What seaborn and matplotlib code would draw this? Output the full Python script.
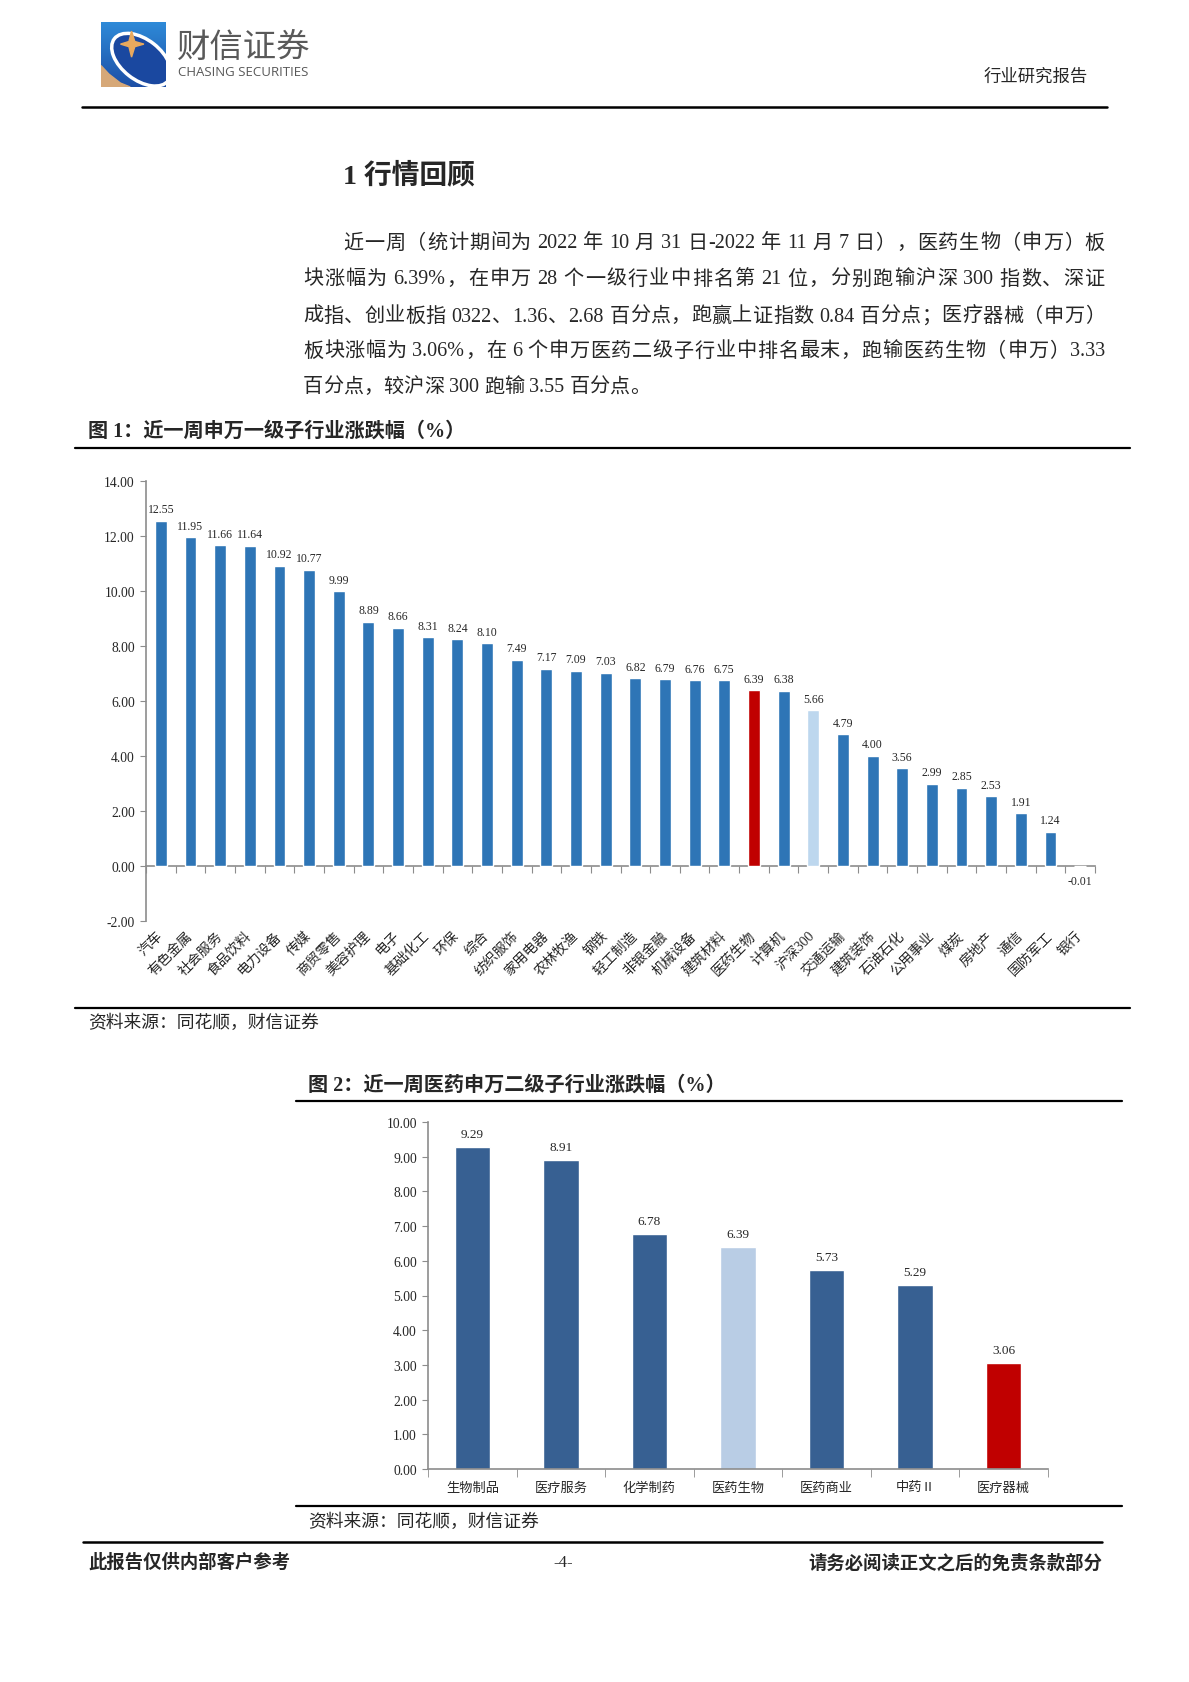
import numpy as np
import pandas as pd
import matplotlib
matplotlib.use("Agg")
import matplotlib.pyplot as plt
import seaborn as sns
from matplotlib.lines import Line2D
from matplotlib.patches import Polygon, Ellipse
from matplotlib.colors import LinearSegmentedColormap
from matplotlib.ticker import FormatStrFormatter

# 图1 数据：申万一级行业近一周涨跌幅（%）
cats1 = ['汽车', '有色金属', '社会服务', '食品饮料', '电力设备', '传媒', '商贸零售', '美容护理',
         '电子', '基础化工', '环保', '综合', '纺织服饰', '家用电器', '农林牧渔', '钢铁',
         '轻工制造', '非银金融', '机械设备', '建筑材料', '医药生物', '计算机', '沪深300', '交通运输',
         '建筑装饰', '石油石化', '公用事业', '煤炭', '房地产', '通信', '国防军工', '银行']
vals1 = [12.55, 11.95, 11.66, 11.64, 10.92, 10.77, 9.99, 8.89,
         8.66, 8.31, 8.24, 8.10, 7.49, 7.17, 7.09, 7.03,
         6.82, 6.79, 6.76, 6.75, 6.39, 6.38, 5.66, 4.79,
         4.00, 3.56, 2.99, 2.85, 2.53, 1.91, 1.24, -0.01]

# 图2 数据：医药申万二级行业
cats2 = ['生物制品', '医疗服务', '化学制药', '医药生物', '医药商业', '中药Ⅱ', '医疗器械']
vals2 = [9.29, 8.91, 6.78, 6.39, 5.73, 5.29, 3.06]

para = [
    '近一周（统计期间为 2022 年 10 月 31 日-2022 年 11 月 7 日），医药生物（申万）板',
    '块涨幅为 6.39%，在申万 28 个一级行业中排名第 21 位，分别跑输沪深 300 指数、深证',
    '成指、创业板指 0322、1.36、2.68 百分点，跑赢上证指数 0.84 百分点；医疗器械（申万）',
    '板块涨幅为 3.06%，在 6 个申万医药二级子行业中排名最末，跑输医药生物（申万）3.33',
    '百分点，较沪深 300 跑输 3.55 百分点。',
]

BLUE1, RED, LIGHT1 = '#2E75B6', '#C00000', '#BDD7EE'
BLUE2, LIGHT2 = '#376092', '#B9CDE5'
GREY = '#8C8C8C'

sns.set_style('ticks')
SERIF = ['Liberation Serif', 'Noto Sans CJK SC']
CJK = ['Noto Sans CJK SC', 'DejaVu Sans']
plt.rcParams['font.family'] = SERIF
plt.rcParams['axes.unicode_minus'] = False

W, H = 1189, 1683
def fx(x): return x / W
def fy(y): return 1 - y / H

fig = plt.figure(figsize=(11.89, 16.83), dpi=100)
rend = fig.canvas.get_renderer()

def hline(y, x0, x1, lw=1.5, color='black'):
    fig.add_artist(Line2D([fx(x0), fx(x1)], [fy(y), fy(y)], color=color, lw=lw,
                          transform=fig.transFigure))

def para_line(s, x0, x1, y, size, justify=True):
    toks, run, pend = [], '', False
    for ch in s:
        if ch == ' ':
            if run:
                toks.append((run, pend)); run = ''; pend = False
            pend = True
        elif ord(ch) < 128:
            run += ch
        else:
            if run:
                toks.append((run, pend)); run = ''; pend = False
            toks.append((ch, pend)); pend = False
    if run:
        toks.append((run, pend))
    objs = []
    for tok, sp in toks:
        t = fig.text(0, fy(y), tok, fontsize=size, va='center', ha='left')
        objs.append((t, t.get_window_extent(rend).width, sp))
    spw = size * 100 / 72 * 0.25
    natural = sum(o[1] for o in objs) + spw * sum(1 for o in objs if o[2])
    extra = (x1 - x0 - natural) / (len(objs) - 1) if justify else 0
    x = x0
    for t, w, sp in objs:
        if sp:
            x += spw
        t.set_x(fx(x))
        x += w + extra

# ---- 页眉 ----
lax = fig.add_axes([fx(101), fy(88), 65 / W, 65 / H])
lax.set_xlim(0, 1); lax.set_ylim(0, 1); lax.axis('off')
cm = LinearSegmentedColormap.from_list('logo', ['#1D4FA6', '#2E8AD8'])
lax.imshow(np.linspace(0, 1, 50).reshape(-1, 1), extent=[0, 1, 0, 1], cmap=cm,
           origin='lower', aspect='auto')
lax.add_patch(Polygon([(0, 0), (0, 0.33), (0.12, 0.2), (0.3, 0.06), (0.45, 0)],
                      color='#D6A878'))
lax.add_patch(Ellipse((0.62, 0.42), 1.05, 0.62, angle=-38, facecolor='#1A48A0',
                      edgecolor='white', lw=2.5))
star = [(0.47, 0.86), (0.52, 0.70), (0.66, 0.66), (0.52, 0.62), (0.47, 0.46),
        (0.43, 0.62), (0.30, 0.66), (0.43, 0.70)]
lax.add_patch(Polygon(star, color='#E8A95E'))

fig.text(fx(177), fy(47), '财信证券', fontsize=24, color='#595959', va='center', family=CJK)
fig.text(fx(178), fy(73), 'CHASING SECURITIES', fontsize=9.5, color='#595959', va='center',
         family=['Open Sans', 'DejaVu Sans'])
fig.text(fx(1088), fy(78), '行业研究报告', fontsize=12.5, ha='right', va='center')
hline(108, 82, 1107, lw=1.8)

# ---- 正文 ----
fig.text(fx(343), fy(176), '1 行情回顾', fontsize=20, weight='bold', va='center')
line_y = [244, 280, 317, 352, 388]
for i, s in enumerate(para):
    x0 = 343 if i == 0 else 303
    para_line(s, x0, 1105, line_y[i], 14.5, justify=(i < len(para) - 1))

# ---- 图1 ----
fig.text(fx(88), fy(432), '图 1：近一周申万一级子行业涨跌幅（%）', fontsize=14.5,
         weight='bold', va='center')
hline(449, 75, 1130, lw=1.6)

ax1 = fig.add_axes([fx(146), fy(922), (1095 - 146) / W, (922 - 482) / H])
df1 = pd.DataFrame({'行业': cats1, '涨跌幅': vals1})
pal1 = {c: BLUE1 for c in cats1}
pal1['医药生物'] = RED
pal1['沪深300'] = LIGHT1
sns.barplot(data=df1, x='行业', y='涨跌幅', hue='行业', palette=pal1, width=0.4,
            saturation=1, legend=False, ax=ax1)
ax1.set_xlim(-0.5, len(cats1) - 0.5)
ax1.set_ylim(-2, 14)
ax1.set_yticks(np.arange(-2, 14.1, 2))
ax1.yaxis.set_major_formatter(FormatStrFormatter('%.2f'))
ax1.set_xlabel(''); ax1.set_ylabel('')
ax1.set_xticks(range(len(cats1)))
ax1.set_xticklabels(cats1, rotation=45, ha='right', va='center', rotation_mode='anchor',
                    fontsize=10)
ax1.tick_params(axis='x', length=0, pad=9)
ax1.tick_params(axis='y', length=4, color=GREY, labelsize=9.8, pad=4)
for s in ['top', 'right', 'bottom']:
    ax1.spines[s].set_visible(False)
ax1.spines['left'].set_color(GREY)
ax1.spines['left'].set_linewidth(1.2)
sec = ax1.secondary_xaxis(2 / 16)
sec.set_xticks(np.arange(-0.5, len(cats1), 1))
sec.set_xticklabels([])
sec.tick_params(length=5, color=GREY)
for sp in sec.spines.values():
    sp.set_color(GREY)
    sp.set_linewidth(1.2)
for i, v in enumerate(vals1):
    ax1.annotate(f'{v:.2f}', (i, v), xytext=(0, 4 if v >= 0 else -6),
                 textcoords='offset points', ha='center',
                 va='bottom' if v >= 0 else 'top', fontsize=8.5)

hline(1009, 75, 1130, lw=1.6)
fig.text(fx(88), fy(1023), '资料来源：同花顺，财信证券', fontsize=12.8, style='italic', va='center')

# ---- 图2 ----
fig.text(fx(308), fy(1086), '图 2：近一周医药申万二级子行业涨跌幅（%）', fontsize=14.5,
         weight='bold', va='center')
hline(1102, 296, 1122, lw=1.6)

ax2 = fig.add_axes([fx(428), fy(1470), (1048 - 428) / W, (1470 - 1123) / H])
df2 = pd.DataFrame({'行业': cats2, '涨跌幅': vals2})
pal2 = {c: BLUE2 for c in cats2}
pal2['医药生物'] = LIGHT2
pal2['医疗器械'] = RED
sns.barplot(data=df2, x='行业', y='涨跌幅', hue='行业', palette=pal2, width=0.4,
            saturation=1, legend=False, ax=ax2)
ax2.set_xlim(-0.5, len(cats2) - 0.5)
ax2.set_ylim(0, 10)
ax2.set_yticks(np.arange(0, 10.1, 1))
ax2.yaxis.set_major_formatter(FormatStrFormatter('%.2f'))
ax2.set_xlabel(''); ax2.set_ylabel('')
ax2.set_xticks(range(len(cats2)))
ax2.set_xticklabels(cats2, fontsize=9.5)
ax2.set_xticks(np.arange(-0.5, len(cats2), 1), minor=True)
ax2.tick_params(axis='x', which='major', length=0, pad=9)
ax2.tick_params(axis='x', which='minor', length=6, color=GREY)
ax2.tick_params(axis='y', length=4, color=GREY, labelsize=9.8, pad=4)
for s in ['top', 'right']:
    ax2.spines[s].set_visible(False)
for s in ['left', 'bottom']:
    ax2.spines[s].set_color(GREY)
    ax2.spines[s].set_linewidth(1.2)
for i, v in enumerate(vals2):
    ax2.annotate(f'{v:.2f}', (i, v), xytext=(0, 5), textcoords='offset points',
                 ha='center', va='bottom', fontsize=9.5)

hline(1507, 296, 1122, lw=1.6)
fig.text(fx(308), fy(1522), '资料来源：同花顺，财信证券', fontsize=12.8, style='italic', va='center')

# ---- 页脚 ----
hline(1543, 83, 1102, lw=1.8)
fig.text(fx(88), fy(1563), '此报告仅供内部客户参考', fontsize=13.2, weight='bold', va='center')
fig.text(fx(563), fy(1563), '-4-', fontsize=12, ha='center', va='center')
fig.text(fx(1102), fy(1563), '请务必阅读正文之后的免责条款部分', fontsize=13.2, weight='bold',
         ha='right', va='center')

fig.savefig('out.png', dpi=100)
